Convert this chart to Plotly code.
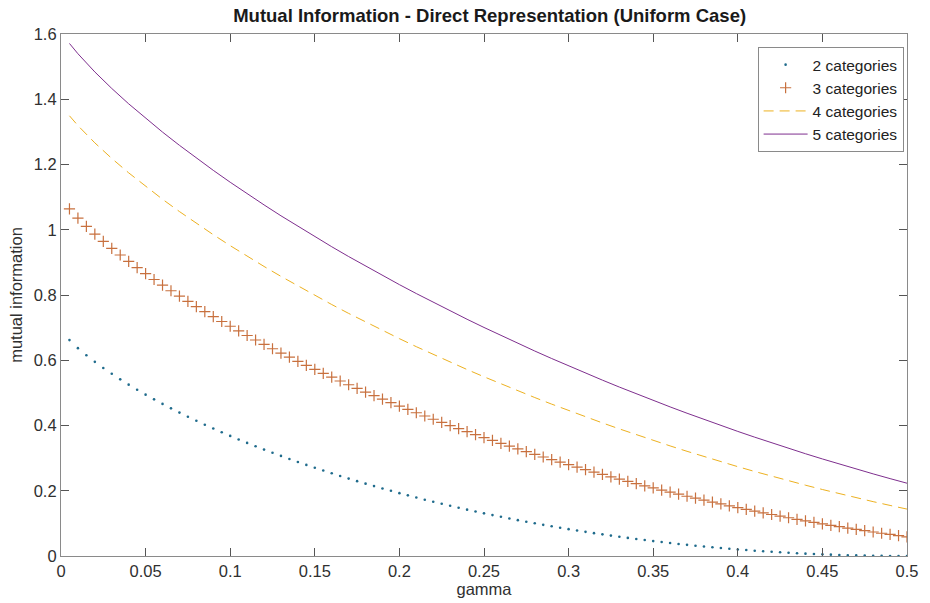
import plotly.graph_objects as go

# noise level gamma, sampled every 0.005 (marker series)
gamma = [
    0.005, 0.010, 0.015, 0.020, 0.025, 0.030, 0.035, 0.040, 0.045, 0.050,
    0.055, 0.060, 0.065, 0.070, 0.075, 0.080, 0.085, 0.090, 0.095, 0.100,
    0.105, 0.110, 0.115, 0.120, 0.125, 0.130, 0.135, 0.140, 0.145, 0.150,
    0.155, 0.160, 0.165, 0.170, 0.175, 0.180, 0.185, 0.190, 0.195, 0.200,
    0.205, 0.210, 0.215, 0.220, 0.225, 0.230, 0.235, 0.240, 0.245, 0.250,
    0.255, 0.260, 0.265, 0.270, 0.275, 0.280, 0.285, 0.290, 0.295, 0.300,
    0.305, 0.310, 0.315, 0.320, 0.325, 0.330, 0.335, 0.340, 0.345, 0.350,
    0.355, 0.360, 0.365, 0.370, 0.375, 0.380, 0.385, 0.390, 0.395, 0.400,
    0.405, 0.410, 0.415, 0.420, 0.425, 0.430, 0.435, 0.440, 0.445, 0.450,
    0.455, 0.460, 0.465, 0.470, 0.475, 0.480, 0.485, 0.490, 0.495, 0.500,
]

mi_2cat = [
    0.6617, 0.6371, 0.6153, 0.5951, 0.5762, 0.5584, 0.5414, 0.5252, 0.5096, 0.4946,
    0.4802, 0.4662, 0.4526, 0.4395, 0.4268, 0.4144, 0.4023, 0.3906, 0.3792, 0.3681,
    0.3572, 0.3466, 0.3363, 0.3262, 0.3164, 0.3068, 0.2974, 0.2882, 0.2792, 0.2704,
    0.2619, 0.2535, 0.2453, 0.2373, 0.2294, 0.2218, 0.2143, 0.2069, 0.1998, 0.1927,
    0.1859, 0.1792, 0.1726, 0.1662, 0.1600, 0.1539, 0.1479, 0.1421, 0.1364, 0.1308,
    0.1254, 0.1201, 0.1149, 0.1099, 0.1050, 0.1002, 0.0955, 0.0910, 0.0866, 0.0823,
    0.0781, 0.0740, 0.0701, 0.0663, 0.0626, 0.0590, 0.0555, 0.0521, 0.0489, 0.0457,
    0.0427, 0.0397, 0.0369, 0.0342, 0.0316, 0.0291, 0.0267, 0.0244, 0.0222, 0.0201,
    0.0182, 0.0163, 0.0145, 0.0129, 0.0113, 0.0098, 0.0085, 0.0072, 0.0061, 0.0050,
    0.0041, 0.0032, 0.0025, 0.0018, 0.0013, 0.0008, 0.0005, 0.0002, 0.0001, 0.0000,
]

mi_3cat = [
    1.0637, 1.0357, 1.0103, 0.9867, 0.9644, 0.9431, 0.9226, 0.9029, 0.8839, 0.8654,
    0.8475, 0.8301, 0.8130, 0.7965, 0.7802, 0.7644, 0.7489, 0.7337, 0.7188, 0.7042,
    0.6899, 0.6759, 0.6621, 0.6485, 0.6352, 0.6221, 0.6093, 0.5966, 0.5842, 0.5719,
    0.5599, 0.5480, 0.5364, 0.5249, 0.5136, 0.5025, 0.4915, 0.4807, 0.4701, 0.4596,
    0.4493, 0.4391, 0.4291, 0.4192, 0.4095, 0.3999, 0.3905, 0.3812, 0.3720, 0.3630,
    0.3541, 0.3453, 0.3367, 0.3282, 0.3198, 0.3116, 0.3035, 0.2954, 0.2876, 0.2798,
    0.2722, 0.2646, 0.2572, 0.2499, 0.2428, 0.2357, 0.2287, 0.2219, 0.2152, 0.2086,
    0.2021, 0.1957, 0.1894, 0.1832, 0.1771, 0.1712, 0.1653, 0.1595, 0.1539, 0.1483,
    0.1429, 0.1376, 0.1323, 0.1272, 0.1222, 0.1172, 0.1124, 0.1077, 0.1031, 0.0986,
    0.0941, 0.0898, 0.0856, 0.0815, 0.0775, 0.0736, 0.0697, 0.0660, 0.0624, 0.0589,
]

# noise level gamma for the line series
gamma_line = [
    0.005, 0.01, 0.02, 0.03, 0.04, 0.05, 0.06, 0.07, 0.08, 0.09, 0.10,
    0.11, 0.12, 0.13, 0.14, 0.15, 0.16, 0.17, 0.18, 0.19, 0.20,
    0.21, 0.22, 0.23, 0.24, 0.25, 0.26, 0.27, 0.28, 0.29, 0.30,
    0.31, 0.32, 0.33, 0.34, 0.35, 0.36, 0.37, 0.38, 0.39, 0.40,
    0.41, 0.42, 0.43, 0.44, 0.45, 0.46, 0.47, 0.48, 0.49, 0.50,
]

mi_4cat = [
    1.3493, 1.3193, 1.2663, 1.2186, 1.1744, 1.1328, 1.0934, 1.0558, 1.0196, 0.9849, 0.9513,
    0.9189, 0.8875, 0.8571, 0.8275, 0.7988, 0.7708, 0.7436, 0.7172, 0.6913, 0.6662,
    0.6416, 0.6177, 0.5943, 0.5715, 0.5493, 0.5276, 0.5064, 0.4857, 0.4655, 0.4458,
    0.4266, 0.4079, 0.3896, 0.3717, 0.3543, 0.3374, 0.3209, 0.3048, 0.2891, 0.2738,
    0.2590, 0.2446, 0.2306, 0.2170, 0.2038, 0.1910, 0.1786, 0.1666, 0.1550, 0.1438,
]

mi_5cat = [
    1.5710, 1.5396, 1.4837, 1.4331, 1.3860, 1.3416, 1.2993, 1.2588, 1.2198, 1.1821, 1.1457,
    1.1104, 1.0762, 1.0428, 1.0104, 0.9788, 0.9480, 0.9179, 0.8885, 0.8598, 0.8318,
    0.8044, 0.7775, 0.7513, 0.7256, 0.7005, 0.6759, 0.6519, 0.6283, 0.6053, 0.5827,
    0.5606, 0.5390, 0.5178, 0.4971, 0.4768, 0.4570, 0.4376, 0.4186, 0.4000, 0.3819,
    0.3642, 0.3469, 0.3300, 0.3135, 0.2975, 0.2818, 0.2665, 0.2517, 0.2372, 0.2231,
]

x_ticks = [0, 0.05, 0.1, 0.15, 0.2, 0.25, 0.3, 0.35, 0.4, 0.45, 0.5]
x_tick_text = ["0", "0.05", "0.1", "0.15", "0.2", "0.25", "0.3", "0.35", "0.4", "0.45", "0.5"]
y_ticks = [0, 0.2, 0.4, 0.6, 0.8, 1.0, 1.2, 1.4, 1.6]
y_tick_text = ["0", "0.2", "0.4", "0.6", "0.8", "1", "1.2", "1.4", "1.6"]

FONT = "Liberation Sans, Arial, Helvetica, sans-serif"
AXIS_GREY = "#8a8a8a"
TEXT = "#303030"

fig = go.Figure()

fig.add_trace(go.Scatter(
    x=gamma, y=mi_2cat, name="2 categories", mode="markers",
    marker=dict(symbol="circle", size=2.6, color="#1f6b8c", line=dict(width=0)),
))
fig.add_trace(go.Scatter(
    x=gamma, y=mi_3cat, name="3 categories", mode="markers",
    marker=dict(symbol="cross-thin", size=8, color="#c8703e",
                line=dict(width=1.2, color="#c8703e")),
))
fig.add_trace(go.Scatter(
    x=gamma_line, y=mi_4cat, name="4 categories", mode="lines",
    line=dict(color="#EDB120", width=1, dash="10px,6px"),
))
fig.add_trace(go.Scatter(
    x=gamma_line, y=mi_5cat, name="5 categories", mode="lines",
    line=dict(color="#7E2F8E", width=1),
))

axis_common = dict(
    showline=True, linecolor=AXIS_GREY, linewidth=1.2, mirror="ticks",
    ticks="inside", ticklen=8, tickcolor="#555555", tickwidth=1,
    showgrid=False, zeroline=False,
    tickfont=dict(family=FONT, size=16.5, color=TEXT),
)

fig.update_layout(
    width=930, height=603,
    margin=dict(l=61, r=12, t=34, b=45),
    paper_bgcolor="white", plot_bgcolor="white",
    font=dict(family=FONT, size=16.5, color=TEXT),
    title=dict(
        text="<b>Mutual Information - Direct Representation (Uniform Case)</b>",
        x=0.5265, xanchor="center", y=0.975, yanchor="middle",
        font=dict(family=FONT, size=18.5, color="#1a1a1a"),
    ),
    xaxis=dict(
        range=[0, 0.5], tickvals=x_ticks, ticktext=x_tick_text,
        title=dict(text="gamma", standoff=0, font=dict(family=FONT, size=16.5, color=TEXT)),
        **axis_common,
    ),
    yaxis=dict(
        range=[0, 1.6], tickvals=y_ticks, ticktext=y_tick_text,
        title=dict(text="mutual information", standoff=6, font=dict(family=FONT, size=16.5, color=TEXT)),
        **axis_common,
    ),
    legend=dict(
        x=0.996, y=0.975, xanchor="right", yanchor="top",
        bgcolor="white", bordercolor=AXIS_GREY, borderwidth=1,
        font=dict(family=FONT, size=15.5, color="#222222"),
        tracegroupgap=0, itemwidth=44,
    ),
    showlegend=True,
)

fig.write_html("out.html")
